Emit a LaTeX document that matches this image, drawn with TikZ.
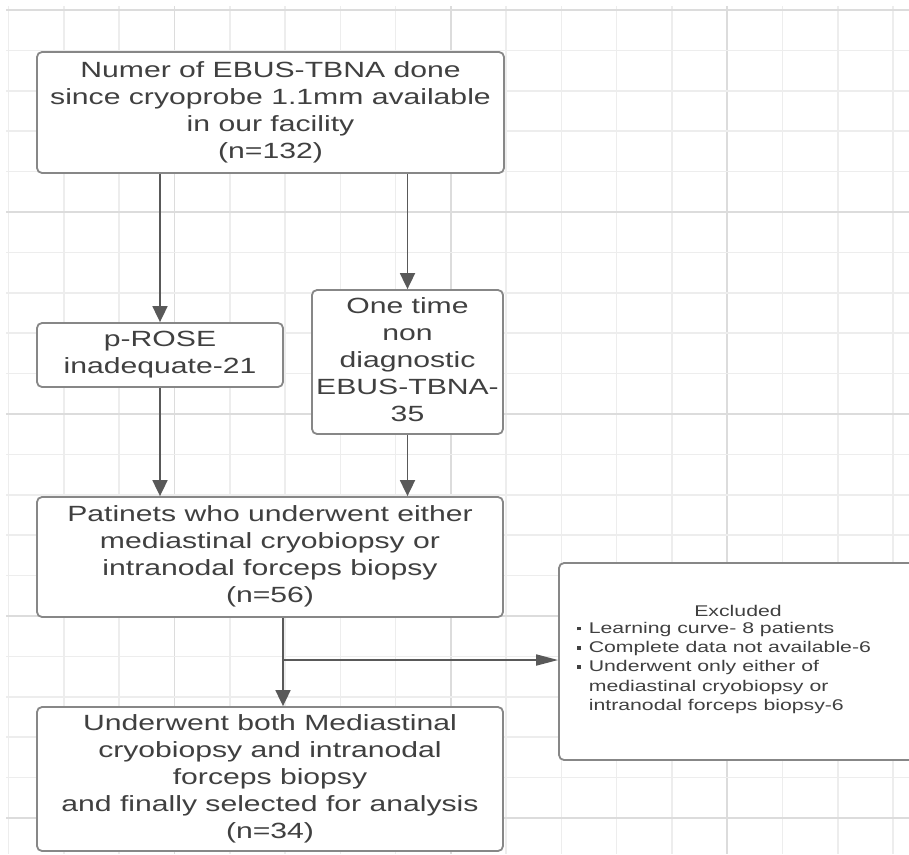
\documentclass[tikz,border=0pt]{standalone}
\usepackage{fontspec}
\setmainfont{Liberation Sans}
\usepackage{graphicx}
\usetikzlibrary{arrows.meta}
\definecolor{gridminor}{HTML}{EDEDED}
\definecolor{gridmajor}{HTML}{DCDCDC}
\definecolor{boxline}{HTML}{878787}
\definecolor{arrline}{HTML}{595959}
\definecolor{txt}{HTML}{404040}
\newcommand{\wtxt}[1]{\scalebox{1.37}[1]{\fontsize{22}{27}\selectfont\begin{tabular}{@{}c@{}}#1\end{tabular}}}
\newcommand{\sqbul}{\rule[3pt]{3pt}{3.5pt}}
\tikzset{
  boxnode/.style={draw=boxline, line width=1.8pt, fill=white, rounded corners=5pt, inner sep=0pt, text=txt},
  arr/.style={draw=arrline, line width=1.8pt, -{Triangle[length=16pt,width=15pt]}},
  harr/.style={draw=arrline, line width=1.8pt, -{Triangle[length=22pt,width=11pt]}},
  gminor/.style={draw=gridminor, line width=1.5pt},
  gmajor/.style={draw=gridmajor, line width=1.5pt},
}
\begin{document}
\begin{tikzpicture}[x=1pt,y=-1pt]
\useasboundingbox (0,0) rectangle (909,854);
\clip (0,0) rectangle (909,854);
\fill[white] (0,0) rectangle (909,854);
% grid
\foreach \i in {0,...,16} {
  \pgfmathsetmacro{\gx}{8.7+\i*55.27}
  \ifnum\i=3 \draw[gmajor] (\gx,6) -- (\gx,854);
  \else\ifnum\i=8 \draw[gmajor] (\gx,6) -- (\gx,854);
  \else\ifnum\i=13 \draw[gmajor] (\gx,6) -- (\gx,854);
  \else \draw[gminor] (\gx,6) -- (\gx,854);
  \fi\fi\fi
}
\foreach \j in {0,...,20} {
  \pgfmathsetmacro{\gy}{10+\j*40.4}
  \pgfmathtruncatemacro{\jm}{mod(\j,5)}
  \ifnum\jm=0 \draw[gmajor] (6,\gy) -- (909,\gy);
  \else \draw[gminor] (6,\gy) -- (909,\gy);
  \fi
}
% boxes
\node[boxnode, minimum width=467pt, minimum height=121pt] (n1) at (270.5,112.5)
  {\wtxt{Numer of EBUS-TBNA done\\since cryoprobe 1.1mm available\\in our facility\\(n=132)}};
\node[boxnode, minimum width=246pt, minimum height=64pt] (n2) at (160,355)
  {\wtxt{p-ROSE\\inadequate-21}};
\node[boxnode, minimum width=191pt, minimum height=144pt] (n3) at (407.5,362)
  {\wtxt{One time\\non\\diagnostic\\EBUS-TBNA-\\35}};
\node[boxnode, minimum width=466pt, minimum height=120pt] (n4) at (270,557)
  {\wtxt{Patinets who underwent either\\mediastinal cryobiopsy or\\intranodal forceps biopsy\\(n=56)}};
\node[boxnode, minimum width=466pt, minimum height=144pt] (n5) at (270,779)
  {\wtxt{Underwent both Mediastinal\\cryobiopsy and intranodal\\forceps biopsy\\and finally selected for analysis\\(n=34)}};
\node[boxnode, minimum width=358pt, minimum height=197pt] (n6) at (738,661.5) {};
\node[text=txt, inner sep=0pt] (exh) at (738,611)
  {\scalebox{1.37}[1]{\fontsize{15.5}{19.25}\selectfont Excluded}};
\node[text=txt, inner sep=0pt, anchor=west] (exl) at (577,668)
  {\scalebox{1.37}[1]{\fontsize{15.5}{19.25}\selectfont\begin{tabular}{@{}l@{\hspace{5.5pt}}l@{}}
  \sqbul & Learning curve- 8 patients\\
  \sqbul & Complete data not available-6\\
  \sqbul & Underwent only either of\\
         & mediastinal cryobiopsy or\\
         & intranodal forceps biopsy-6
  \end{tabular}}};
% connectors
\coordinate (j) at (283,660);
\draw[arr] (n2.north |- n1.south) -- (n2.north);
\draw[arr] (n3.north |- n1.south) -- (n3.north);
\draw[arr] (n2.south) -- (n2.south |- n4.north);
\draw[arr] (n3.south) -- (n3.south |- n4.north);
\draw[arr] (n4.south -| j) -- (n5.north -| j);
\draw[harr] (j) -- (j -| n6.west);
\end{tikzpicture}
\end{document}
